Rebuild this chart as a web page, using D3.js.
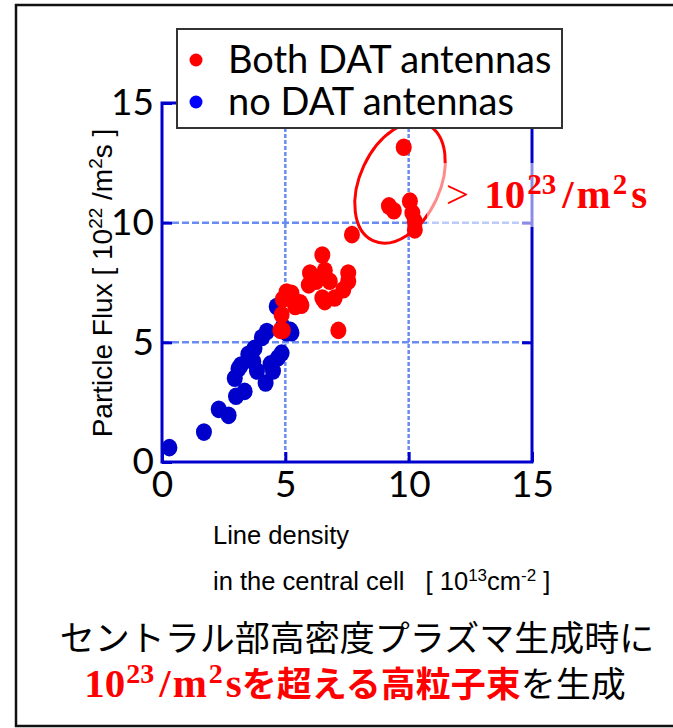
<!DOCTYPE html>
<html>
<head>
<meta charset="utf-8">
<script src="https://cdn.jsdelivr.net/npm/d3@7"></script>
<style>
body { margin: 0; background: #fff; }
text { white-space: pre; }
</style>
</head>
<body>
<svg id="chart" width="673" height="728"></svg>
<script>
/* Data: [line density 1e13 cm^-2, particle flux 1e22 /m^2s] */

var BOTH_DAT = [[4.8,5.5],[4.9,5.5],[4.85,6.15],[4.9,6.8],[5.05,7.1],[5.25,7.05],
                [5.4,6.5],[5.6,6.65],[5.65,6.55],[5.95,7.4],[6.0,7.9],[6.25,7.55],
                [6.5,8.65],[6.6,8.0],[6.8,7.55],[6.5,6.85],[6.6,6.7],[7.0,6.85],
                [7.35,7.2],[7.55,7.55],[7.55,7.9],[7.15,5.5],[7.7,9.5],
                [9.8,13.15],[9.2,10.7],[9.4,10.5],[10.05,10.9],[10.15,10.4],
                [10.25,10.05],[10.25,9.7]];

var NO_DAT = [[0.3,0.6],[1.7,1.25],[2.3,2.2],[2.7,1.95],[2.95,3.5],[3.0,2.75],
              [3.35,2.95],[3.2,4.05],[3.5,4.5],[3.75,4.75],[4.05,5.2],[4.25,5.45],
              [3.85,3.8],[4.2,3.3],[4.5,3.8],[4.7,4.35],[4.85,4.55],[5.05,5.4],
              [5.25,5.4],[4.9,5.65],[3.7,4.2],[4.65,6.5],[5.2,5.5],[3.1,3.9],[4.4,4.1]];

var X_TICKS = [0, 5, 10, 15],
    Y_TICKS = [0, 5, 10, 15],
    GRID_VALUES = [5, 10];

var LEGEND_LABELS = ["Both DAT antennas", "no DAT antennas"];

/* Colours */

var RED = "#ff0000",
    DARK_BLUE = "#0000cc",
    LEGEND_BLUE = "#0000ff",
    GRID_BLUE = "#6a8cf2";

/* Measures */

var PLOT = { left: 162, right: 532, top: 103, bottom: 462 };

var DOT_RX = 8,
    DOT_RY = 8.8,
    TICK_LEN = 10;

var SANS = "Lato, 'Open Sans', sans-serif",
    ARIAL = "'Liberation Sans', Arial, sans-serif",
    SERIF = "'Liberation Serif', 'DejaVu Serif', serif",
    CJK = "'Noto Sans CJK JP', sans-serif";

var svg = d3.select("#chart");

var x = d3.scaleLinear().domain([0, 15]).range([PLOT.left, PLOT.right]);
var y = d3.scaleLinear().domain([0, 15]).range([PLOT.bottom, PLOT.top]);

// outer frame of the slide
svg.append("rect")
	.attr("x", 16).attr("y", 5)
	.attr("width", 670).attr("height", 721)
	.attr("fill", "none")
	.attr("stroke", "#111")
	.attr("stroke-width", 2.5);

// grid
var grid = svg.append("g");
grid.selectAll("line.v")
	.data(GRID_VALUES)
	.enter().append("line")
	.attr("class", "v")
	.attr("x1", x).attr("x2", x)
	.attr("y1", y(0)).attr("y2", y(15))
	.attr("stroke", GRID_BLUE)
	.attr("stroke-width", 2.5)
	.attr("stroke-dasharray", "4,2");
grid.selectAll("line.h")
	.data(GRID_VALUES)
	.enter().append("line")
	.attr("class", "h")
	.attr("y1", y).attr("y2", y)
	.attr("x1", x(0)).attr("x2", x(15))
	.attr("stroke", GRID_BLUE)
	.attr("stroke-width", 2.5)
	.attr("stroke-dasharray", "7,3");

// axes with inward ticks
function styleAxis(g) {
	g.select(".domain").remove();
	g.selectAll(".tick line").attr("stroke", DARK_BLUE).attr("stroke-width", 3);
	g.selectAll(".tick text")
		.attr("fill", "#000")
		.attr("font-family", SANS)
		.attr("font-size", 37);
}

svg.append("g")
	.attr("transform", "translate(0," + PLOT.bottom + ")")
	.call(d3.axisBottom(x).tickValues(X_TICKS).tickSize(-TICK_LEN).tickPadding(9))
	.call(styleAxis);

svg.append("g")
	.attr("transform", "translate(" + PLOT.left + ",0)")
	.call(d3.axisLeft(y).tickValues(Y_TICKS).tickSize(-TICK_LEN).tickPadding(8))
	.call(styleAxis);

svg.append("g")
	.attr("transform", "translate(" + PLOT.right + ",0)")
	.call(d3.axisRight(y).tickValues(GRID_VALUES).tickSize(-TICK_LEN).tickFormat(""))
	.call(styleAxis);

svg.append("g")
	.attr("transform", "translate(0," + PLOT.top + ")")
	.call(d3.axisTop(x).tickValues(GRID_VALUES).tickSize(-TICK_LEN).tickFormat(""))
	.call(styleAxis);

// plot frame
svg.append("rect")
	.attr("x", x(0)).attr("y", y(15))
	.attr("width", x(15) - x(0))
	.attr("height", y(0) - y(15))
	.attr("fill", "none")
	.attr("stroke", DARK_BLUE)
	.attr("stroke-width", 3);

// data
svg.append("g").selectAll("ellipse")
	.data(NO_DAT)
	.enter().append("ellipse")
	.attr("cx", function(d) { return x(d[0]); })
	.attr("cy", function(d) { return y(d[1]); })
	.attr("rx", DOT_RX).attr("ry", DOT_RY)
	.attr("fill", DARK_BLUE);

svg.append("g").selectAll("ellipse")
	.data(BOTH_DAT)
	.enter().append("ellipse")
	.attr("cx", function(d) { return x(d[0]); })
	.attr("cy", function(d) { return y(d[1]); })
	.attr("rx", DOT_RX).attr("ry", DOT_RY)
	.attr("fill", RED);

// highlight ellipse round the high-flux shots
svg.append("ellipse")
	.attr("transform", "translate(" + x(9.65) + "," + y(11.67) + ") rotate(25)")
	.attr("rx", 40).attr("ry", 64)
	.attr("fill", "none")
	.attr("stroke", RED)
	.attr("stroke-width", 3);

// half-transparent text box of the annotation
svg.append("rect")
	.attr("x", 427).attr("y", 163)
	.attr("width", 260).attr("height", 64)
	.attr("fill", "#fff")
	.attr("fill-opacity", 0.55);

// helper: append base / superscript runs as tspans
function addRuns(text, runs, supSize, supRise) {
	runs.forEach(function(r) {
		var t = text.append("tspan").text(r.s);
		if (r.sup) {
			t.attr("dy", -supRise).attr("font-size", supSize);
		} else if (r.after) {
			t.attr("dy", supRise);
		}
		if (r.size) t.attr("font-size", r.size);
		if (r.fill) t.attr("fill", r.fill);
		if (r.family) t.attr("font-family", r.family);
		if (r.weight) t.attr("font-weight", r.weight);
		if (r.dx) t.attr("dx", r.dx);
	});
}

var ann = svg.append("text")
	.attr("x", 446).attr("y", 208)
	.attr("fill", RED)
	.attr("font-family", SERIF)
	.attr("font-weight", "bold")
	.attr("font-size", 41);
addRuns(ann, [
	{ s: ">", weight: "normal" },
	{ s: "10", dx: 15 },
	{ s: "23", sup: true, dx: 2 },
	{ s: "/", after: true, dx: 6 },
	{ s: "m", dx: 3 },
	{ s: "2", sup: true, dx: 2 },
	{ s: "s", after: true, dx: 4 }
], 29, 14);

// legend
var legend = svg.append("g");
legend.append("rect")
	.attr("x", 177).attr("y", 29)
	.attr("width", 385).attr("height", 99)
	.attr("fill", "#fff")
	.attr("stroke", "#333")
	.attr("stroke-width", 2);

var legendRows = legend.selectAll("g.row")
	.data(LEGEND_LABELS)
	.enter().append("g")
	.attr("class", "row")
	.attr("transform", function(d, i) { return "translate(0," + (i * 42) + ")"; });

legendRows.append("circle")
	.attr("cx", 196).attr("cy", 60)
	.attr("r", 6.5)
	.attr("fill", function(d, i) { return i === 0 ? RED : LEGEND_BLUE; });

legendRows.append("text")
	.attr("x", 228).attr("y", 73)
	.attr("font-family", SANS)
	.attr("font-size", 38)
	.text(String);

// axis titles
var yTitle = svg.append("text")
	.attr("transform", "translate(112,283) rotate(-90)")
	.attr("text-anchor", "middle")
	.attr("font-family", ARIAL)
	.attr("font-size", 28);
addRuns(yTitle, [
	{ s: "Particle Flux [ 10" },
	{ s: "22", sup: true },
	{ s: " /m", after: true },
	{ s: "2", sup: true },
	{ s: "s ]", after: true }
], 19, 10);

svg.append("text")
	.attr("x", 213).attr("y", 544)
	.attr("font-family", ARIAL)
	.attr("font-size", 25.5)
	.text("Line density");

var xTitle = svg.append("text")
	.attr("x", 213).attr("y", 590)
	.attr("font-family", ARIAL)
	.attr("font-size", 25.5);
addRuns(xTitle, [
	{ s: "in the central cell   [ 10" },
	{ s: "13", sup: true },
	{ s: "cm", after: true },
	{ s: "-2", sup: true },
	{ s: " ]", after: true }
], 17, 9);

// caption
svg.append("text")
	.attr("x", 357).attr("y", 651)
	.attr("text-anchor", "middle")
	.attr("font-family", CJK)
	.attr("font-size", 35)
	.text("セントラル部高密度プラズマ生成時に");

var cap2 = svg.append("text")
	.attr("x", 355).attr("y", 697)
	.attr("text-anchor", "middle")
	.attr("font-family", CJK)
	.attr("font-size", 35);
addRuns(cap2, [
	{ s: "10", family: SERIF, weight: "bold", fill: RED, size: 41 },
	{ s: "23", sup: true, family: SERIF, weight: "bold", fill: RED, dx: 1 },
	{ s: "/", after: true, family: SERIF, weight: "bold", fill: RED, size: 41, dx: 5 },
	{ s: "m", family: SERIF, weight: "bold", fill: RED, size: 41, dx: 2 },
	{ s: "2", sup: true, family: SERIF, weight: "bold", fill: RED, dx: 2 },
	{ s: "s", after: true, family: SERIF, weight: "bold", fill: RED, size: 41, dx: 3 },
	{ s: "を超える高粒子束", weight: "bold", fill: RED },
	{ s: "を生成", fill: "#000" }
], 28, 14);
</script>
</body>
</html>
